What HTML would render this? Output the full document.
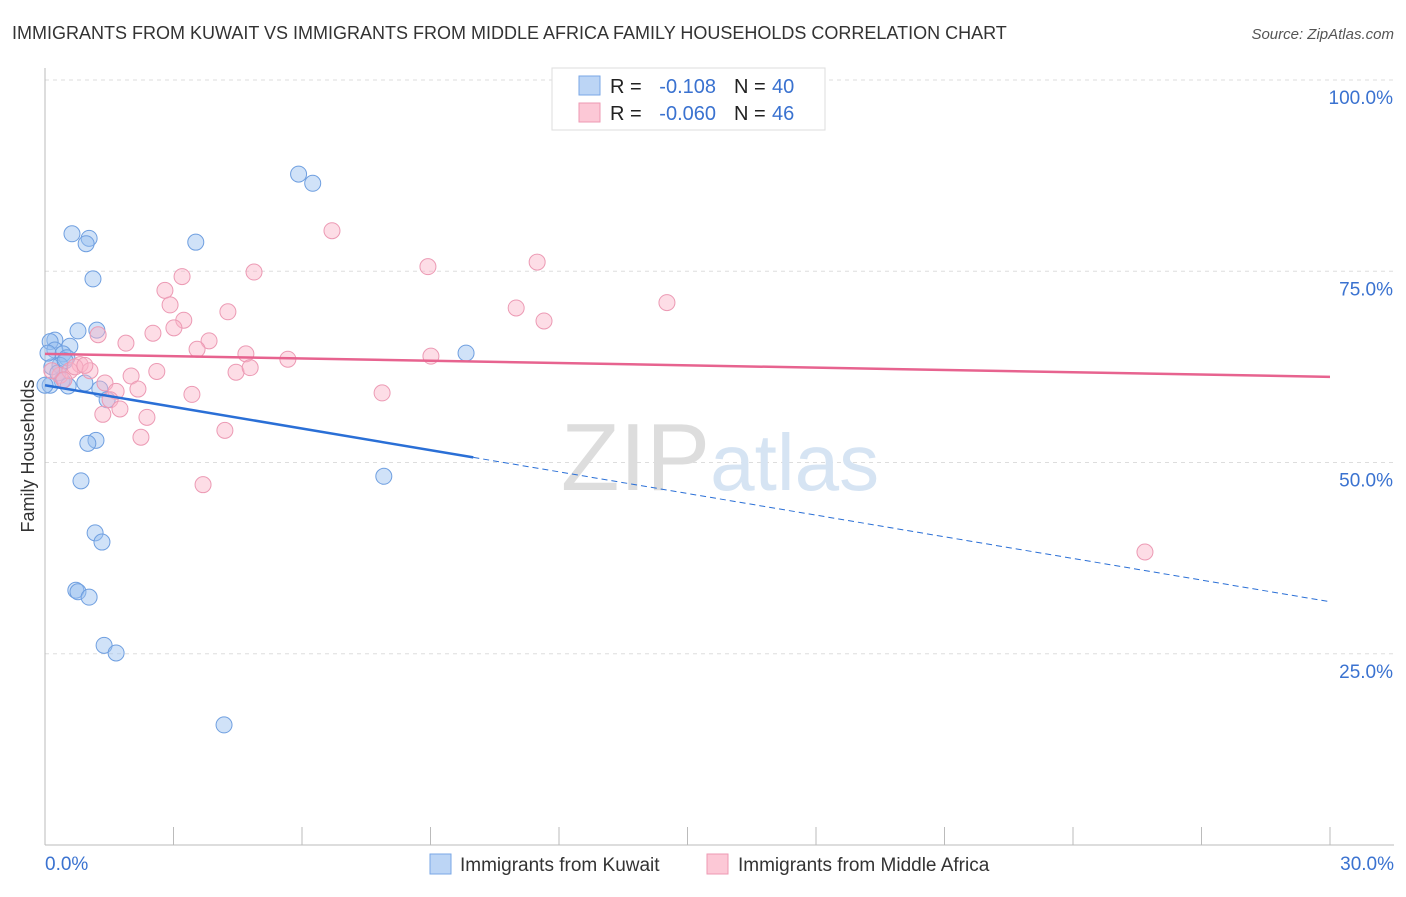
<!DOCTYPE html>
<html><head><meta charset="utf-8">
<style>
body{margin:0;background:#fff;font-family:"Liberation Sans",sans-serif;}
svg text{font-family:"Liberation Sans",sans-serif;}
</style></head>
<body>
<svg id="chart" width="1406" height="892" xmlns="http://www.w3.org/2000/svg">
<text x="12" y="39" font-size="18" fill="#333">IMMIGRANTS FROM KUWAIT VS IMMIGRANTS FROM MIDDLE AFRICA FAMILY HOUSEHOLDS CORRELATION CHART</text>
<text x="1394" y="39" font-size="15" fill="#555" text-anchor="end" font-style="italic">Source: ZipAtlas.com</text>
<g id="grid"></g>
<text x="720" y="490" font-size="96" text-anchor="middle" fill="#e6e6e6" font-family="Liberation Serif"><tspan fill="#ddd">ZIP</tspan><tspan fill="#d6e4f3" font-family="Liberation Sans" font-size="80">atlas</tspan></text>
<g id="points"></g>
<g id="trends"></g>
<text transform="translate(34,456) rotate(-90)" font-size="18" fill="#333" text-anchor="middle">Family Households</text>
<g>
<rect x="552" y="68" width="273" height="62" fill="#fff" stroke="#ddd"/>
<rect x="579" y="76" width="21" height="19" fill="#bcd5f5" stroke="#7aa7e6"/>
<rect x="579" y="103" width="21" height="19" fill="#fcc8d6" stroke="#ee99b3"/>
<text x="610" y="93" font-size="20" fill="#222">R = </text><text x="716" y="93" font-size="20" fill="#3a72d0" text-anchor="end">-0.108</text>
<text x="734" y="93" font-size="20" fill="#222">N = </text><text x="772" y="93" font-size="20" fill="#3a72d0">40</text>
<text x="610" y="120" font-size="20" fill="#222">R = </text><text x="716" y="120" font-size="20" fill="#3a72d0" text-anchor="end">-0.060</text>
<text x="734" y="120" font-size="20" fill="#222">N = </text><text x="772" y="120" font-size="20" fill="#3a72d0">46</text>
</g>
<g>
<rect x="430" y="854" width="21" height="20" fill="#bcd5f5" stroke="#7aa7e6"/>
<text x="460" y="871" font-size="19" fill="#333">Immigrants from Kuwait</text>
<rect x="707" y="854" width="21" height="20" fill="#fcc8d6" stroke="#ee99b3"/>
<text x="738" y="871" font-size="19" fill="#333">Immigrants from Middle Africa</text>
</g>
</svg>
<script>
const yTicks=[25,50,75,100];
const yTickLabels=["25.0%","50.0%","75.0%","100.0%"];
const xTicks=[0,3,6,9,12,15,18,21,24,27,30];
const xEndLabels=["0.0%","30.0%"];
const kuwaitX=[5.92,6.25,0.63,1.03,0.96,3.52,1.12,1.21,0.77,0.23,0.12,0.58,0.23,0.42,0.51,0.35,0.16,0.3,0.4,0.54,0.12,0.93,1.28,1.45,9.83,1.19,1.0,0.84,7.91,1.17,1.33,0.72,0.77,1.03,1.38,1.66,4.18,0.07,0.0,0.47];
const kuwaitY=[87.7,86.5,79.9,79.3,78.6,78.8,74.0,67.3,67.2,66.0,65.8,65.2,64.7,64.2,63.7,62.7,62.5,61.7,60.7,60.0,60.1,60.4,59.6,58.2,64.3,52.9,52.5,47.6,48.2,40.8,39.6,33.3,33.1,32.4,26.1,25.1,15.7,64.3,60.1,63.3];
const africaX=[6.7,8.94,11.49,4.88,3.2,2.8,2.92,14.52,11.0,4.27,3.24,11.65,3.01,1.24,2.52,3.83,1.89,3.55,4.69,5.67,9.01,4.46,4.79,2.61,2.01,0.82,1.05,1.4,1.66,2.17,3.43,7.87,1.52,1.75,1.35,2.38,4.2,2.24,3.69,25.68,0.35,0.16,0.58,0.7,0.44,0.93];
const africaY=[80.3,75.6,76.2,74.9,74.3,72.5,70.6,70.9,70.2,69.7,68.6,68.5,67.6,66.7,66.9,65.9,65.6,64.8,64.2,63.5,63.9,61.8,62.4,61.9,61.3,62.8,62.0,60.4,59.3,59.6,58.9,59.1,58.2,57.0,56.3,55.9,54.2,53.3,47.1,38.3,61.4,62.0,62.0,62.5,60.8,62.7];
const kuwaitTrend=[60.1,31.8];
const africaTrend=[64.2,61.2];
const kuwaitSolidEnd=10.0;

const NS="http://www.w3.org/2000/svg";
const X=v=>45+v/30*1285;
const Y=v=>845-v/100*765;
function mk(t,a,p){const e=document.createElementNS(NS,t);for(const k in a)e.setAttribute(k,a[k]);p.appendChild(e);return e;}
const grid=document.getElementById('grid');
yTicks.forEach((t,i)=>{
 const l=mk('line',{x1:45,x2:1394,y1:Y(t),y2:Y(t),stroke:'#ddd','stroke-dasharray':'4,4'},grid);
 
 
 const tx=mk('text',{x:1393,y:Y(t)+24,'font-size':19,fill:'#3a72d0','text-anchor':'end'},grid);
 tx.textContent=yTickLabels[i];
 
 
});
const ax=mk('line',{x1:45,x2:45,y1:68,y2:845,stroke:'#bbb'},grid);


const bx=mk('line',{x1:45,x2:1394,y1:845,y2:845,stroke:'#bbb'},grid);


xTicks.forEach(t=>{
 const l=mk('line',{x1:X(t),x2:X(t),y1:827,y2:845,stroke:'#bbb'},grid);
 
 
});
const xl0=mk('text',{x:45,y:870,'font-size':19,fill:'#3a72d0'},grid);xl0.textContent=xEndLabels[0];


const xl1=mk('text',{x:1394,y:870,'font-size':19,fill:'#3a72d0','text-anchor':'end'},grid);xl1.textContent=xEndLabels[1];



const pts=document.getElementById('points');
kuwaitX.forEach((v,i)=>{
 const c=mk('circle',{cx:X(v),cy:Y(kuwaitY[i]),r:8,fill:'rgba(150,190,240,0.45)',stroke:'#6f9fe0','stroke-width':1},pts);
 
 
});
africaX.forEach((v,i)=>{
 const c=mk('circle',{cx:X(v),cy:Y(africaY[i]),r:8,fill:'rgba(250,180,200,0.45)',stroke:'#ec9ab4','stroke-width':1},pts);
 
 
});
const tr=document.getElementById('trends');
const ky=x=>kuwaitTrend[0]+(kuwaitTrend[1]-kuwaitTrend[0])*x/30;
const k1=mk('line',{x1:X(0),y1:Y(kuwaitTrend[0]),x2:X(kuwaitSolidEnd),y2:Y(ky(kuwaitSolidEnd)),stroke:'#2a6fd6','stroke-width':2.5},tr);


const k2=mk('line',{x1:X(kuwaitSolidEnd),y1:Y(ky(kuwaitSolidEnd)),x2:X(30),y2:Y(kuwaitTrend[1]),stroke:'#2a6fd6','stroke-width':1,'stroke-dasharray':'6,4'},tr);


const a1=mk('line',{x1:X(0),y1:Y(africaTrend[0]),x2:X(30),y2:Y(africaTrend[1]),stroke:'#e7638f','stroke-width':2.5},tr);


</script>
</body></html>
